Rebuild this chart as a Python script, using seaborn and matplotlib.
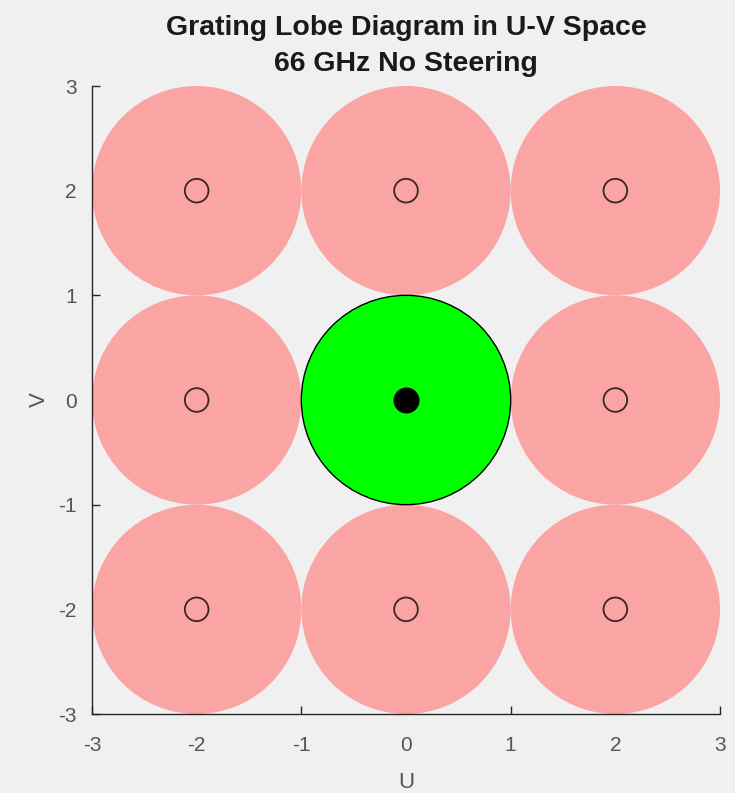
import numpy as np
import pandas as pd
import matplotlib
matplotlib.use("Agg")
import matplotlib.pyplot as plt
from matplotlib.patches import Circle
import seaborn as sns

# Grating lobe centres in U-V space (no steering)
lobe_u = [-2, 0, 2, -2, 2, -2, 0, 2]
lobe_v = [2, 2, 2, 0, 0, -2, -2, -2]
main_u = [0]
main_v = [0]
visible_radius = 1.0
tick_vals = [-3, -2, -1, 0, 1, 2, 3]

sns.set_theme(style="white")
plt.rcParams['font.family'] = ['Liberation Sans', 'DejaVu Sans']

bg = "#f0f0f0"
fig = plt.figure(figsize=(7.35, 7.93), dpi=100, facecolor=bg)
ax = fig.add_axes([92 / 735, 1 - 714 / 793, 628 / 735, 628 / 793])
ax.set_facecolor(bg)

# grating lobe regions
for u, v in zip(lobe_u, lobe_v):
    ax.add_patch(Circle((u, v), visible_radius, facecolor="#fba4a4",
                        edgecolor="none", zorder=1))
# visible region around the main beam
for u, v in zip(main_u, main_v):
    ax.add_patch(Circle((u, v), visible_radius, facecolor="#00ff00",
                        edgecolor="black", linewidth=1.0, zorder=2))

lobes = pd.DataFrame({"U": lobe_u, "V": lobe_v})
main = pd.DataFrame({"U": main_u, "V": main_v})
sns.scatterplot(data=lobes, x="U", y="V", ax=ax, s=290, marker="o",
                facecolor="none", edgecolor="#3a2626", linewidth=1.3, zorder=3)
sns.scatterplot(data=main, x="U", y="V", ax=ax, s=300, marker="o",
                color="black", edgecolor="black", zorder=4)

ax.set_xlim(-3, 3)
ax.set_ylim(-3, 3)
ax.set_aspect("auto")
ax.set_xticks(tick_vals)
ax.set_yticks(tick_vals)
ax.set_xticklabels([str(t) for t in tick_vals])
ax.set_yticklabels([str(t) for t in tick_vals])

for side in ["top", "right"]:
    ax.spines[side].set_visible(False)
for side in ["left", "bottom"]:
    ax.spines[side].set_color("#262626")
    ax.spines[side].set_linewidth(1.0)
    ax.spines[side].set_zorder(5)

ax.tick_params(axis="both", direction="in", length=6, width=1.0,
               color="#262626", labelcolor="#555555", labelsize=15,
               bottom=True, left=True)
ax.tick_params(axis="x", pad=16)
ax.tick_params(axis="y", pad=11)

ax.set_xlabel("U", fontsize=16, color="#555555", labelpad=12)
ax.set_ylabel("V", fontsize=16, color="#555555", labelpad=6, rotation=90)
ax.set_title("Grating Lobe Diagram in U-V Space\n66 GHz No Steering",
             fontsize=20.5, fontweight="bold", color="#1a1a1a", pad=11,
             linespacing=1.5)

fig.savefig("out.png", dpi=100, facecolor=bg)
